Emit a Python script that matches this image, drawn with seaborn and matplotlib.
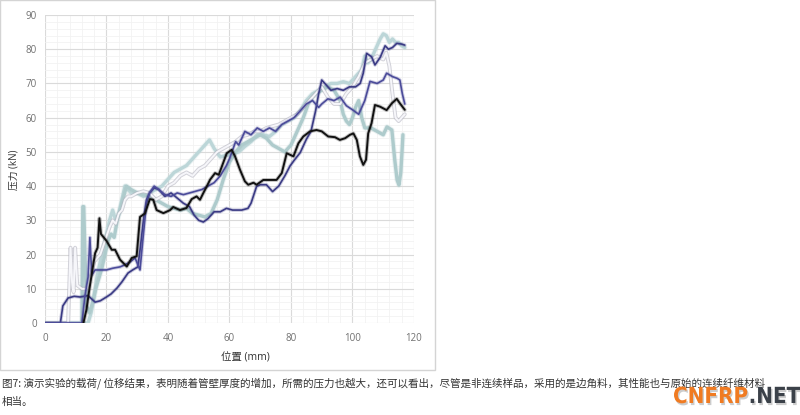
import matplotlib
matplotlib.use("Agg")
import matplotlib.pyplot as plt
import matplotlib.patheffects as pe
from matplotlib.patches import Rectangle
from matplotlib.ticker import MultipleLocator
import pandas as pd
import seaborn as sns

# 数据
black_x = [12.5, 13.5, 14.4, 15.5, 16.3, 17.1, 17.7, 18.2, 20, 21.7, 22.8, 24.4, 26.6, 28.2, 29.8, 30.9, 32.5, 34.1,
           35.2, 36.3, 38.5, 40.7, 41.7, 43.9, 46, 47.7, 49.3, 50.4, 51.5, 52.6, 53.7, 55.3, 56.5, 57.5, 59.1, 60.7,
           61.8, 63.4, 65, 66.1, 67.8, 68.8, 71, 73.2, 75.3, 77, 78.6, 80.8, 82.4, 84, 86.2, 88.3, 90, 92.1, 94.3,
           95.9, 97.6, 99.2, 100.3, 101.4, 102.4, 103.5, 104.4, 105.1, 106.2, 107.3, 109, 111.1, 112.8, 114.4,
           115.4, 117]
black_y = [0, 4, 9.7, 16, 20.4, 22, 30.6, 26, 24, 21.4, 21.4, 18.5, 16.5, 19, 19.5, 31, 32, 36.2, 36, 33, 32.1, 33,
           33.9, 33, 33.6, 36.2, 37, 36, 38, 39.9, 41.9, 43.8, 43.3, 45.7, 49.6, 50.6, 48.7, 44.8, 41.4, 40.4, 41,
           40.4, 41.8, 41.8, 41.8, 43.8, 49.6, 48.7, 52.5, 54.5, 56, 56.4, 56, 54.5, 54.3, 53.5, 54, 55, 55.4, 53.5,
           48.7, 46.2, 47.7, 55.4, 58.4, 63.7, 63.2, 62.2, 64.2, 65.5, 64.2, 62.3]

navy1_x = [0, 5, 5.8, 7.5, 9.5, 11.4, 14, 16.3, 18, 20, 21.5, 23.4, 25, 27, 28.5, 30.2, 31, 32, 33, 34, 35.5, 37, 39,
           41, 43, 45, 47, 48.5, 50, 51.5, 53, 55, 57, 59, 61, 64, 66, 67, 68.8, 70, 72, 74, 76, 78, 79.7, 81, 83, 85,
           86.5, 88, 89, 90, 91, 93, 95, 97, 99, 101, 102.5, 103.5, 104.6, 106.2, 107.3, 109, 110.6, 111.7, 113,
           114.4, 116, 117]
navy1_y = [0, 0, 5, 7.3, 7.8, 7.6, 8, 6.1, 6.5, 7.6, 8.5, 10.2, 12, 14.6, 15.5, 16.4, 22, 30, 36, 38, 39.5, 39, 37,
           38, 36.5, 35, 34, 31.5, 30, 29.5, 30.5, 32.5, 32.5, 33.5, 33, 33, 33.5, 35, 39.9, 40.4, 40.4, 38.4, 40, 43,
           45.9, 47.5, 49.8, 53.7, 56, 62, 67, 71, 70, 68, 68.5, 68, 69, 69, 70, 73, 78.8, 77.8, 75.4, 77.6, 81, 80,
           80.5, 81.7, 81.5, 81.2]

navy2_x = [0, 12, 13, 14, 14.6, 15.2, 16.3, 18, 20, 22, 24.4, 26, 27.6, 29.3, 30.9, 31.9, 33, 34, 35.5, 37, 39, 41,
           43, 45, 47, 49, 51, 53, 55, 57, 59, 60, 62, 63, 65, 67, 69, 71, 73, 75, 77, 79, 81, 83, 85, 87, 89, 90,
           92, 94, 96, 98, 100, 102, 104, 105.7, 108, 110, 111.1, 113, 114.5, 115.4, 116.2, 117]
navy2_y = [0, 0, 8, 13.4, 25, 14, 15.5, 15.5, 15.5, 16, 16.4, 17, 17.8, 19, 15.5, 25, 35, 38, 40, 39, 37.5, 37, 38,
           37.5, 38, 38.5, 39, 40, 41, 43, 46, 48, 53, 52, 56, 55, 57, 56, 57, 56, 58, 59, 60, 62, 64, 65, 63, 64, 65.5,
           65, 66, 63.5, 62.3, 61, 65, 70.6, 70, 71, 73, 72, 71.5, 71, 67, 64]

teal1_x = [12, 12.3, 12.6, 13, 13.5, 14.5, 15.5, 16.5, 17.5, 18.5, 19.5, 20.5, 21.5, 22.5, 23.5, 25, 26.5, 28, 30,
           32, 34, 36, 38, 40, 42, 44, 46, 48, 50, 52, 54, 56, 58, 60, 62, 64, 66, 68, 70, 72, 74, 76, 78, 80, 82,
           84, 86, 88, 90, 92, 94, 96, 97, 98, 99, 100, 101, 102, 103, 104, 106, 108, 110, 111.2, 112.8, 113.7,
           114.5, 115.1, 115.7, 116.1, 116.4]
teal1_y = [0, 34, 34, 20, 5, 3, 6, 10, 13, 16, 20, 24, 26, 25, 30, 35, 40, 39, 38, 37.5, 37, 36, 35, 34, 33.5, 33,
           33.5, 32, 31.5, 31, 32, 36, 42, 47, 50, 52, 53, 54, 55, 54, 52, 51, 50, 52, 56, 60, 65, 67, 68, 69, 68,
           65, 61, 59, 58, 60, 63, 65, 60, 57, 57, 56, 55, 57.3, 56.4, 48, 41.8, 40.3, 44, 50, 55]

teal2_x = [0, 14, 15, 16, 17, 18, 19, 20, 21, 22, 23, 24, 25, 26, 27, 28, 30, 32, 34, 36, 38, 40, 42, 44, 46, 48,
           50, 52, 53.5, 55, 57, 59, 61, 63, 65, 67, 69, 71, 73, 75, 77, 79, 81, 83, 85, 87, 89, 91, 93, 95, 97, 99,
           101, 103, 104, 105, 106, 107, 108, 109, 110, 111, 112, 113, 114, 115, 116, 117]
teal2_y = [0, 0, 3, 8, 14, 18, 22, 26, 30, 33, 30, 32, 36, 40, 39, 38, 38, 37, 38, 39, 40, 42, 44, 45, 46, 48, 50,
           52, 53.5, 51, 48.5, 49, 49.5, 50, 51.6, 53, 55, 55, 54.5, 56, 58, 59, 60, 62, 65, 67, 68, 69, 70, 70, 70.5,
           70, 72, 74, 78, 76, 77, 79, 81, 83, 84.5, 84, 82, 83, 82, 82, 81, 80.5]

silver_x = [0, 7.5, 8.3, 8.8, 9.3, 9.8, 10.5, 12, 13.5, 15, 16, 17, 18, 19.5, 21, 22, 23, 24, 25, 26, 27, 28, 30,
            32, 34, 36, 38, 40, 42, 44, 46, 48, 50, 52, 54, 56, 58, 60, 62, 64, 66, 68, 70, 72, 74, 76, 78, 80, 82,
            84, 86, 88, 90, 92, 94, 96, 98, 100, 102, 104, 106, 108, 110, 111, 112, 113, 114, 115, 116, 117]
silver_y = [0, 0, 22, 12, 9, 22, 11, 10, 10, 14, 18, 19, 20, 24, 28, 30, 29, 32, 33, 36, 37, 37, 38, 38.5, 38, 36,
            37, 40, 41, 43, 44, 43, 45, 46, 48, 50, 51, 52, 53, 54.5, 55, 56, 56, 57, 57.5, 58, 59, 60, 61, 63, 65,
            67, 69, 66, 64, 64, 67, 69, 72, 76, 77, 78, 77, 79, 75, 67, 60, 59, 60, 61]

x_ticks = [0, 20, 40, 60, 80, 100, 120]
y_ticks = [0, 10, 20, 30, 40, 50, 60, 70, 80, 90]

caption1 = "图7: 演示实验的载荷/ 位移结果，表明随着管壁厚度的增加，所需的压力也越大，还可以看出，尽管是非连续样品，采用的是边角料，其性能也与原始的连续纤维材料"
caption2 = "相当。"

sns.set_theme(style="white")
plt.rcParams['font.family'] = ['Open Sans', 'Noto Sans CJK SC', 'DejaVu Sans']

fig = plt.figure(figsize=(8, 4.15), dpi=100)
fig.patch.set_facecolor("white")

# 图框
frame = Rectangle((0.0, 45 / 415), 435 / 800, 370 / 415, transform=fig.transFigure,
                  facecolor="none", edgecolor="#d4d4d4", lw=1, zorder=-5)
fig.add_artist(frame)

ax = fig.add_axes([45 / 800, 92 / 415, 369 / 800, 308 / 415])
ax.set_facecolor("none")
ax.set_zorder(2)

series = [
    ("teal2", teal2_x, teal2_y, "#bcd6d8", 2.4),
    ("teal1", teal1_x, teal1_y, "#aecbcc", 2.4),
    ("silver", silver_x, silver_y, "#f6f6fa", 1.4),
    ("navy1", navy1_x, navy1_y, "#3a3a84", 1.2),
    ("navy2", navy2_x, navy2_y, "#4b4b9a", 1.2),
    ("black", black_x, black_y, "#111111", 1.4),
]

for name, xs, ys, col, lw in series:
    df = pd.DataFrame({"x": xs, "y": ys})
    sns.lineplot(data=df, x="x", y="y", ax=ax, color=col, lw=lw, sort=False, estimator=None, zorder=3)
    line = ax.lines[-1]
    if name == "silver":
        line.set_path_effects([pe.Stroke(linewidth=lw + 1.4, foreground="#b4b4c0", alpha=0.6), pe.Normal()])
    else:
        line.set_path_effects([pe.Stroke(linewidth=lw + 1.4, foreground=col, alpha=0.25), pe.Normal()])

ax.set_xlim(0, 120)
ax.set_ylim(0, 90)
ax.set_xticks(x_ticks)
ax.set_yticks(y_ticks)
ax.xaxis.set_minor_locator(MultipleLocator(4))
ax.yaxis.set_minor_locator(MultipleLocator(2))
ax.grid(which="major", color="#dadada", lw=0.8)
ax.grid(which="minor", color="#f2f2f2", lw=0.6)
ax.set_axisbelow(True)
for s in ax.spines.values():
    s.set_visible(False)
ax.tick_params(which="both", length=0, labelsize=7, labelcolor="#707070")
ax.tick_params(axis="x", pad=7)
ax.tick_params(axis="y", pad=6)
ax.set_xlabel("")
ax.set_ylabel("")

fig.text(14 / 800, (415 - 170) / 415, "压力 (kN)", rotation=90, ha="center", va="center",
         fontsize=7, color="#333333")
fig.text(245 / 800, (415 - 358) / 415, "位置 (mm)", ha="center", va="center", fontsize=7.5, color="#333333")

# 图注
fig.text(2 / 800, (415 - 383) / 415, caption1, ha="left", va="center", fontsize=7.6, color="#333333",
         family=['Noto Sans CJK SC', 'DejaVu Sans'], zorder=1)
fig.text(2 / 800, (415 - 402) / 415, caption2, ha="left", va="center", fontsize=7.6, color="#333333",
         family=['Noto Sans CJK SC', 'DejaVu Sans'])

# 标志
logo_fx = [pe.withSimplePatchShadow(offset=(1, -1.5), shadow_rgbFace="#aaaaaa", alpha=0.6)]
t1 = fig.text(673 / 800, (415 - 403) / 415, "CNFRP", ha="left", va="baseline", fontsize=16, fontweight="bold",
              fontstretch="condensed", color="#f07b22", family="DejaVu Sans", path_effects=logo_fx, zorder=5)
fig.canvas.draw()
bb = t1.get_window_extent()
fig.text(bb.x1 / fig.bbox.width, (415 - 403) / 415, ".NET", ha="left", va="baseline", fontsize=16,
         fontweight="bold", fontstretch="condensed", color="#3b4149", family="DejaVu Sans",
         path_effects=logo_fx, zorder=5)

fig.savefig("out.png", dpi=100, facecolor="white")
